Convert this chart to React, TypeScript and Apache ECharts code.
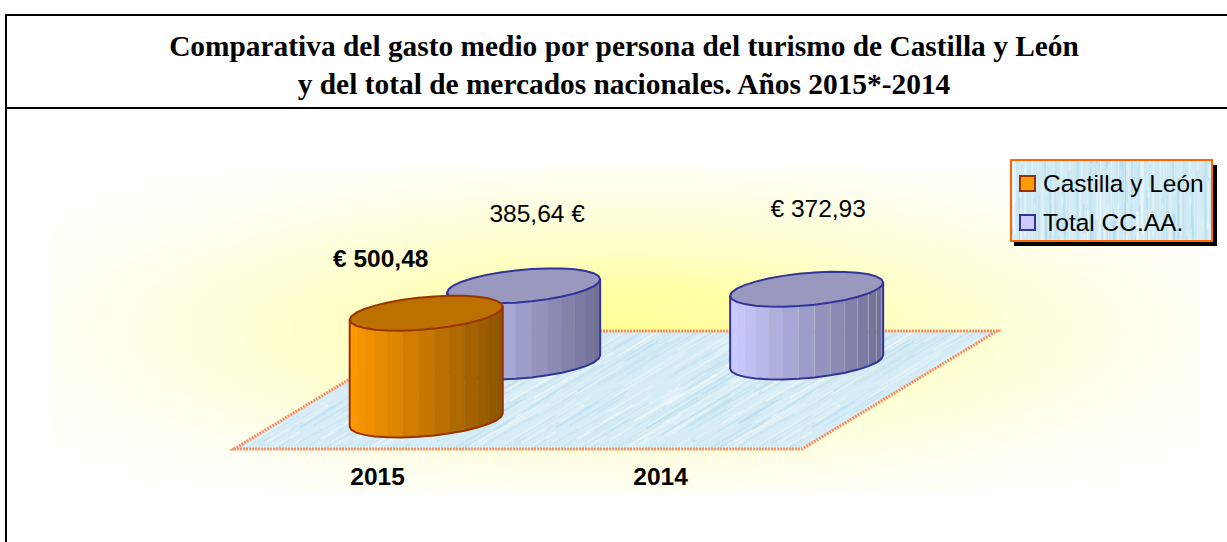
import React, { useEffect, useRef } from "react";
import * as echarts from "echarts";

const categories = ["2015", "2014"];
const castillaValues: (number | null)[] = [500.48, null];
const totalValues: (number | null)[] = [385.64, 372.93];
const castillaLabels = ["€ 500,48", ""];
const totalLabels = ["385,64 €", "€ 372,93"];
const titleText = "Comparativa del gasto medio por persona del turismo de Castilla y León\ny del total de mercados nacionales. Años 2015*-2014";
const seriesNames = ["Castilla y León", "Total CC.AA."];

const W = 1227;
const H = 542;
const AXIS_MIN = 100;
const AXIS_MAX = 700;
const DEPTH_SLOPE = 1.68;

type Look = {
  left: number[]; right: number[]; top: string; line: string;
  depth: number; labelOffset: number[][]; labelBold: boolean; seams: boolean[];
};
const castillaLook: Look = {
  left: [255, 153, 0], right: [140, 84, 0], top: "#BB7000", line: "#993300",
  depth: 29, labelOffset: [[-45.5, -55], [0, 0]], labelBold: true, seams: [false, false],
};
const totalLook: Look = {
  left: [204, 204, 255], right: [110, 110, 148], top: "#9999BF", line: "#333399",
  depth: 87, labelOffset: [[13.5, -72], [11.5, -81]], labelBold: false, seams: [false, true],
};

function texture(w: number, h: number, base: string, colors: string[], dx: number, dy: number, count: number) {
  const c = document.createElement("canvas");
  c.width = w; c.height = h;
  const g = c.getContext("2d")!;
  g.fillStyle = base;
  g.fillRect(0, 0, w, h);
  let s = 12345;
  const next = () => { s = (s * 1103515245 + 12345) & 0x7fffffff; return s / 0x7fffffff; };
  for (let i = 0; i < count; i++) {
    const x = next() * w, y = next() * h, len = 0.3 + next() * 0.9;
    g.strokeStyle = colors[Math.floor(next() * colors.length)];
    g.globalAlpha = 0.15 + next() * 0.35;
    g.lineWidth = 0.7 + next() * 1.8;
    for (const ox of [-w, 0, w]) for (const oy of [-h, 0, h]) {
      g.beginPath();
      g.moveTo(x + ox, y + oy);
      g.lineTo(x + ox + dx * len, y + oy + dy * len);
      g.stroke();
    }
  }
  return c;
}

function makeRender(look: Look, labels: string[]) {
  return (params: any, api: any) => {
    const idx = api.value(0);
    const val = api.value(1);
    if (val == null || isNaN(val)) return null;
    const base = api.coord([idx, AXIS_MIN]);
    const head = api.coord([idx, val]);
    const cx = base[0] + look.depth * DEPTH_SLOPE;
    const by = base[1] - look.depth;
    const ty = head[1] - look.depth;
    const a = 70.8, hx = 29, hy = 17.5;
    const N = 30;
    const thetaR = Math.atan2(hx, a);
    const ring = (yc: number, t: number) => [cx + a * Math.cos(t) + hx * Math.sin(t), yc - hy * Math.sin(t)];
    const children: any[] = [];
    const half = N / 2;
    const xMin = cx - Math.hypot(a, hx), xSpan = 2 * Math.hypot(a, hx);
    const low: number[][] = [];
    for (let i = 0; i <= half; i++) low.push(ring(by, thetaR - Math.PI + (i * Math.PI) / half));
    for (let i = 0; i < half; i++) {
      const t0 = thetaR - Math.PI + (i * Math.PI) / half;
      const t1 = thetaR - Math.PI + ((i + 1) * Math.PI) / half;
      const p0 = ring(ty, t0), p1 = ring(ty, t1), q0 = ring(by, t0), q1 = ring(by, t1);
      const f = ((p0[0] + p1[0]) / 2 - xMin) / xSpan;
      const col = look.left.map((v, k) => Math.round(v + (look.right[k] - v) * f));
      const fill = `rgb(${col.join(",")})`;
      children.push({
        type: "polygon",
        shape: { points: [p0, p1, q1, q0] },
        style: { fill, stroke: look.seams[idx] && f > 0.45 ? "rgba(215,215,225,0.35)" : fill, lineWidth: 0.5 },
      });
    }
    const outline = [ring(ty, thetaR - Math.PI), ...low, ring(ty, thetaR)];
    children.push({ type: "polyline", shape: { points: outline }, style: { fill: "none", stroke: look.line, lineWidth: 2 } });
    const topPts: number[][] = [];
    for (let i = 0; i < N; i++) topPts.push(ring(ty, thetaR + (i * 2 * Math.PI) / N));
    children.push({ type: "polygon", shape: { points: topPts }, style: { fill: look.top, stroke: look.line, lineWidth: 2 } });
    const off = look.labelOffset[idx];
    children.push({
      type: "text",
      x: cx + off[0],
      y: head[1] - look.depth + off[1],
      style: {
        text: labels[idx], fill: "#000", align: "center", verticalAlign: "middle",
        font: `${look.labelBold ? "bold " : ""}24.5px "Liberation Sans", Arial, sans-serif`,
      },
    });
    return { type: "group", children };
  };
}

export default function App() {
  const ref = useRef<HTMLDivElement>(null);
  useEffect(() => {
    document.body.style.margin = "0";
    const chart = echarts.init(ref.current!, null, { renderer: "svg" });
    const floorTex = texture(256, 256, "#D6ECF6", ["#FFFFFF", "#B4DAEA", "#ECF8FB", "#C2E2E4"], 60, -36, 700);
    const legendTex = texture(128, 128, "#CDE9F4", ["#FFFFFF", "#9FD0E4", "#E8F6FA"], 0, 90, 160);
    const pattern = (c: HTMLCanvasElement) => ({ image: c, repeat: "repeat", imageWidth: c.width, imageHeight: c.height });
    chart.setOption({
      animation: false,
      backgroundColor: "#FFFFFF",
      title: {
        text: titleText, left: 619, top: 22, textAlign: "center",
        textStyle: { fontFamily: "'Liberation Serif', 'Times New Roman', serif", fontWeight: "bold", fontSize: 29.4, lineHeight: 38, color: "#000" },
      },
      grid: { left: 236, width: 566, top: 289, height: 160 },
      xAxis: {
        type: "category", data: categories,
        axisLine: { show: false }, axisTick: { show: false }, splitLine: { show: false },
        axisLabel: { margin: 15, color: "#000", fontFamily: "'Liberation Sans', Arial, sans-serif", fontWeight: "bold", fontSize: 24.5 },
      },
      yAxis: { type: "value", min: AXIS_MIN, max: AXIS_MAX, show: false },
      legend: {
        orient: "vertical", left: 1014, top: 166, itemWidth: 15, itemHeight: 15, itemGap: 14, icon: "rect",
        itemStyle: { borderWidth: 2 },
        textStyle: { fontFamily: "'Liberation Sans', Arial, sans-serif", fontSize: 24.5, color: "#000", padding: [0, 0, 0, 3] },
        data: [
          { name: seriesNames[0], itemStyle: { color: "#FF9900", borderColor: castillaLook.line, borderWidth: 2 } },
          { name: seriesNames[1], itemStyle: { color: "#CCCCFF", borderColor: totalLook.line, borderWidth: 2 } },
        ],
      },
      graphic: [
        {
          type: "rect", z: 0, shape: { x: 50, y: 168, width: 1150, height: 325 },
          style: {
            fill: new echarts.graphic.RadialGradient(0.5, 0.5, 0.68, [
              { offset: 0, color: "#FFFF99" },
              { offset: 0.18, color: "#FFFFA4" },
              { offset: 0.35, color: "#FFFFC4" },
              { offset: 0.55, color: "#FFFFE0" },
              { offset: 0.75, color: "#FFFFF6" },
              { offset: 1, color: "#FFFFFF" },
            ]),
          },
        },
        {
          type: "polygon", z: 1,
          shape: { points: [[234, 449], [802, 449], [997, 331], [429, 331]] },
          style: { fill: pattern(floorTex), stroke: "#FF8F5F", lineWidth: 3, lineDash: [2, 1] },
        },
        { type: "line", z: 1, shape: { x1: 6, y1: 15, x2: W, y2: 15 }, style: { stroke: "#000", lineWidth: 2 } },
        { type: "line", z: 1, shape: { x1: 6, y1: 14, x2: 6, y2: H }, style: { stroke: "#000", lineWidth: 2 } },
        { type: "line", z: 1, shape: { x1: 6, y1: 108, x2: W, y2: 108 }, style: { stroke: "#000", lineWidth: 2 } },
        { type: "rect", z: 1, shape: { x: 1014, y: 165, width: 203, height: 81 }, style: { fill: "#000" } },
        {
          type: "rect", z: 1, shape: { x: 1011, y: 160, width: 201, height: 81 },
          style: { fill: pattern(legendTex), stroke: "#FF6600", lineWidth: 2 },
        },
      ],
      series: [
        {
          name: seriesNames[1], type: "custom", z: 2, clip: false, color: "#CCCCFF",
          renderItem: makeRender(totalLook, totalLabels),
          encode: { x: 0, y: 1 },
          data: totalValues.map((v, i) => [i, v]).filter((d) => d[1] != null),
        },
        {
          name: seriesNames[0], type: "custom", z: 3, clip: false, color: "#FF9900",
          renderItem: makeRender(castillaLook, castillaLabels),
          encode: { x: 0, y: 1 },
          data: castillaValues.map((v, i) => [i, v]).filter((d) => d[1] != null),
        },
      ],
    });
    return () => chart.dispose();
  }, []);
  return <div ref={ref} style={{ position: "fixed", left: 0, top: 0, width: W, height: H }} />;
}
